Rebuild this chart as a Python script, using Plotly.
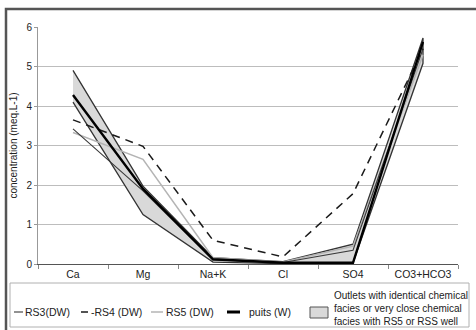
import plotly.graph_objects as go

categories = ["Ca", "Mg", "Na+K", "Cl", "SO4", "CO3+HCO3"]
envelope_upper = [4.9, 1.97, 0.16, 0.06, 0.5, 5.72]
envelope_lower = [4.1, 1.25, 0.05, 0.01, 0.03, 5.08]
rs3 = [3.42, 1.85, 0.1, 0.04, 0.35, 5.45]
rs4 = [3.65, 2.98, 0.6, 0.18, 1.78, 5.45]
rs5 = [3.33, 2.65, 0.16, 0.05, 0.45, 5.3]
puits = [4.28, 1.9, 0.12, 0.03, 0.03, 5.62]
y_ticks = [0, 1, 2, 3, 4, 5, 6]

legend_labels = ["RS3(DW)", "-RS4 (DW)", "RS5 (DW)", "puits (W)",
                 "Outlets with identical chemical<br>facies or very close chemical<br>facies with RS5 or RSS well"]

FONT = "Liberation Sans, Arial, sans-serif"
PL, PR, PT, PB = 38, 458, 27, 264


def fx(px):
    return (px - PL) / (PR - PL)


def fy(py):
    return (PB - py) / (PB - PT)


fig = go.Figure()
fig.add_trace(go.Scatter(
    x=categories + categories[::-1],
    y=envelope_upper + envelope_lower[::-1],
    fill="toself", fillcolor="#d9d9d9",
    line=dict(color="#333333", width=1.3),
    mode="lines", showlegend=False, hoverinfo="skip"))
fig.add_trace(go.Scatter(x=categories, y=rs5, mode="lines",
                         line=dict(color="#b4b4b4", width=1.5), showlegend=False))
fig.add_trace(go.Scatter(x=categories, y=rs3, mode="lines",
                         line=dict(color="#3a3a3a", width=1.1), showlegend=False))
fig.add_trace(go.Scatter(x=categories, y=rs4, mode="lines",
                         line=dict(color="#1a1a1a", width=1.5, dash="8px,6px"), showlegend=False))
fig.add_trace(go.Scatter(x=categories, y=puits, mode="lines",
                         line=dict(color="#000000", width=2.4), showlegend=False))

shapes = []
annotations = []
# outer frame
shapes.append(dict(type="rect", xref="paper", yref="paper",
                   x0=fx(6), x1=fx(490), y0=fy(345), y1=fy(9),
                   line=dict(color="#555555", width=2.5)))
# legend box
shapes.append(dict(type="rect", xref="paper", yref="paper",
                   x0=fx(10), x1=fx(469), y0=fy(327), y1=fy(283),
                   line=dict(color="#b0b0b0", width=1)))
ly = 312
# legend symbols
shapes.append(dict(type="line", xref="paper", yref="paper", x0=fx(14), x1=fx(23), y0=fy(ly), y1=fy(ly),
                   line=dict(color="#3a3a3a", width=1.1)))
shapes.append(dict(type="line", xref="paper", yref="paper", x0=fx(81), x1=fx(88), y0=fy(ly), y1=fy(ly),
                   line=dict(color="#1a1a1a", width=1.5)))
shapes.append(dict(type="line", xref="paper", yref="paper", x0=fx(151), x1=fx(163), y0=fy(ly), y1=fy(ly),
                   line=dict(color="#b4b4b4", width=1.5)))
shapes.append(dict(type="line", xref="paper", yref="paper", x0=fx(227), x1=fx(240), y0=fy(ly), y1=fy(ly),
                   line=dict(color="#000000", width=3)))
shapes.append(dict(type="rect", xref="paper", yref="paper", x0=fx(310), x1=fx(328), y0=fy(318), y1=fy(307),
                   fillcolor="#d9d9d9", line=dict(color="#555555", width=1)))

text_x = [23, 89, 164, 247, 332]
for i, lab in enumerate(legend_labels):
    annotations.append(dict(
        xref="paper", yref="paper", x=fx(text_x[i]), y=fy(ly if i < 4 else 308),
        text=lab, showarrow=False, xanchor="left", yanchor="middle", align="left",
        font=dict(family=FONT, size=10.5 if i < 4 else 10, color="#222222")))

fig.update_layout(
    width=476, height=330,
    margin=dict(l=PL, r=476 - PR, t=PT, b=330 - PB, pad=0),
    paper_bgcolor="white", plot_bgcolor="white",
    font=dict(family=FONT, color="#222222"),
    shapes=shapes, annotations=annotations,
    xaxis=dict(type="category", categoryorder="array", categoryarray=categories,
               range=[-0.5, 5.5], showgrid=False, zeroline=False,
               showline=True, linecolor="#555555", linewidth=1.2,
               tickson="boundaries", ticks="outside", ticklen=4, tickcolor="#888888",
               tickfont=dict(size=10.5, color="#222222")),
    yaxis=dict(range=[0, 6], tickvals=y_ticks, showgrid=True, gridcolor="#bdbdbd", gridwidth=1,
               zeroline=False, showline=True, linecolor="#999999", linewidth=1,
               ticks="outside", ticklen=3, tickcolor="#999999",
               tickfont=dict(size=10, color="#222222"),
               title=dict(text="concentration (meq.L-1)", font=dict(size=10, color="#222222"), standoff=6)),
)

fig.write_html("out.html", config={"displayModeBar": False},
               post_script="document.body.style.margin='0';document.body.style.overflow='hidden';")
